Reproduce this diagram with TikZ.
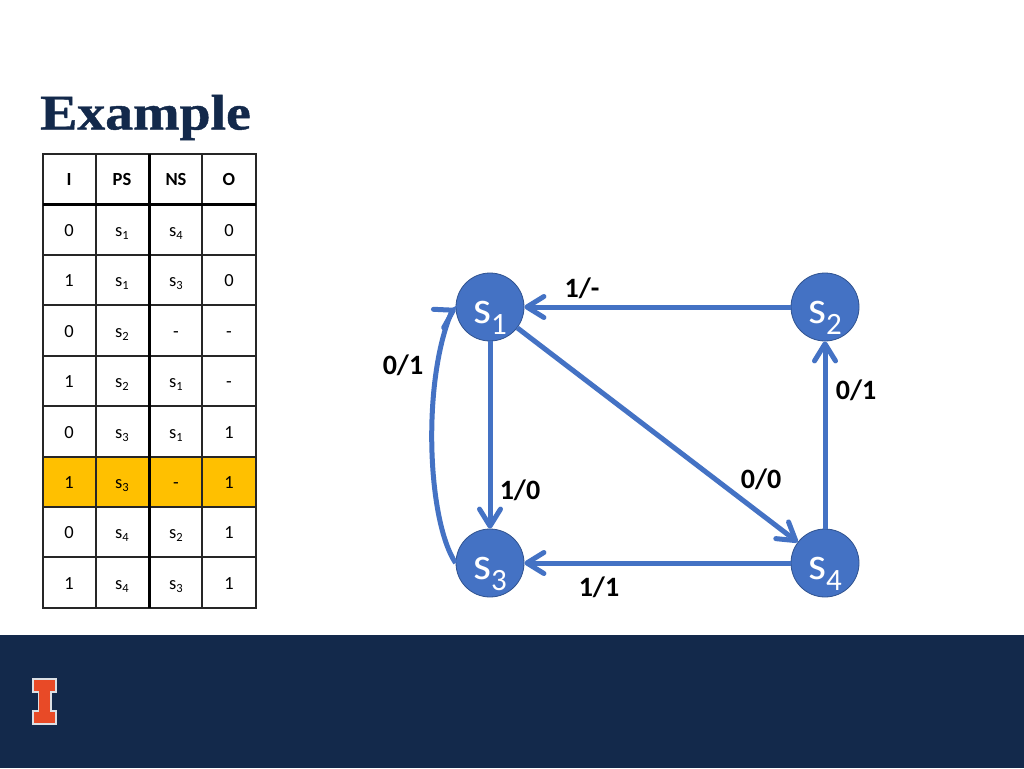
\documentclass[tikz,border=0pt]{standalone}
\usepackage{fontspec}
\setmainfont{Carlito}
\newfontfamily\titlefont[BoldFeatures={FakeBold=0.8}]{Liberation Serif}
\usetikzlibrary{arrows.meta}
\definecolor{navy}{HTML}{13294B}
\definecolor{edgeblue}{HTML}{4472C4}
\definecolor{rimblue}{HTML}{2F528F}
\definecolor{hilite}{HTML}{FFC000}
\definecolor{illini}{HTML}{E84A27}
\newcommand{\cellsub}[1]{s\raisebox{-2.8pt}{\fontsize{12.5}{13}\selectfont #1}}
\newcommand{\statelabel}[1]{\raisebox{-16pt}[0pt][0pt]{\fontsize{46}{46}\selectfont s\raisebox{-11pt}{\fontsize{31}{31}\selectfont #1}}}
\tikzset{
  x=1pt,y=-1pt,
  state/.style={circle,draw=rimblue,line width=0.8pt,fill=edgeblue,text=white,minimum size=68pt,inner sep=0pt},
  conn/.style={draw=edgeblue,line width=5pt,-{Straight Barb[length=17pt,width=21pt,line width=5pt,round]}},
  elabel/.style={font=\fontsize{28}{28}\selectfont\bfseries,text=black,inner sep=0pt},
  cell/.style={font=\fontsize{18.5}{18.5}\selectfont,text=black,inner sep=0pt},
  head/.style={font=\fontsize{18.5}{18.5}\selectfont\bfseries,text=black,inner sep=0pt},
  rule/.style={draw=black!85,line width=1.25pt},
  heavyrule/.style={draw=black,line width=3pt}
}
\begin{document}
\begin{tikzpicture}
\useasboundingbox (0,0) rectangle (1024,768);
\fill[white] (0,0) rectangle (1024,768);
\fill[navy] (0,635) rectangle (1024,768);
\node[anchor=base west,inner sep=0pt,text=navy,font=\titlefont\fontsize{50}{50}\selectfont\bfseries] (title) at (40,129.5) {\scalebox{1.115}[1]{Example}};
% table
\fill[hilite] (43,457) rectangle (256,507);
\foreach \yy in {154,255,305,356,406,457,507,557,608} \draw[rule] (42.4,\yy) -- (256.6,\yy);
\foreach \xx in {43,96,202,256} \draw[rule] (\xx,154) -- (\xx,608);
\draw[heavyrule] (149,154) -- (149,608);
\draw[heavyrule] (43,204) -- (256,204);
\foreach \nm/\xx/\txt in {hi/69/I,hp/122/PS,hn/176/NS,ho/229/O}
  \node[head] (\nm) at (\xx,182) {\strut \txt};
\foreach \r/\yy/\a/\b/\c/\d in {
  1/233/0/\cellsub{1}/\cellsub{4}/0,
  2/283/1/\cellsub{1}/\cellsub{3}/0,
  3/334/0/\cellsub{2}/-/-,
  4/384/1/\cellsub{2}/\cellsub{1}/-,
  5/435/0/\cellsub{3}/\cellsub{1}/1,
  6/485/1/\cellsub{3}/-/1,
  7/535/0/\cellsub{4}/\cellsub{2}/1,
  8/586/1/\cellsub{4}/\cellsub{3}/1}{
  \node[cell] (a\r) at (69,\yy) {\strut \a};
  \node[cell] (b\r) at (122,\yy) {\strut \b};
  \node[cell] (c\r) at (176,\yy) {\strut \c};
  \node[cell] (d\r) at (229,\yy) {\strut \d};
}
% states
\node[state] (s1) at (490,307) {\statelabel{1}};
\node[state] (s2) at (825,307) {\statelabel{2}};
\node[state] (s3) at (490,563) {\statelabel{3}};
\node[state] (s4) at (825,563) {\statelabel{4}};
% connectors
\draw[conn] (s2) -- (s1);
\draw[conn] (s4) -- (s3);
\draw[conn] (s1) -- (s3);
\draw[conn] (s4) -- (s2);
\draw[conn] (s1) -- (s4);
\coordinate (loopa) at (452,311);
\draw[conn] (s3.west) .. controls (427,520) and (422,380) .. (loopa) -- (s1.west |- 0,309);
% edge labels
\node[elabel] (l1) at (582,288) {1/-};
\node[elabel] (l2) at (403,365) {0/1};
\node[elabel] (l3) at (856,390) {0/1};
\node[elabel] (l4) at (520,490) {1/0};
\node[elabel] (l5) at (761,479) {0/0};
\node[elabel] (l6) at (599,587) {1/1};
% logo
\draw[draw=white!85!navy,line width=1.3pt,fill=illini,line join=miter]
  (33,679) -- (56,679) -- (56,692) -- (51,692) -- (51,711) -- (56,711) -- (56,724) -- (33,724) -- (33,711) -- (38.5,711) -- (38.5,692) -- (33,692) -- cycle;
\end{tikzpicture}
\end{document}
